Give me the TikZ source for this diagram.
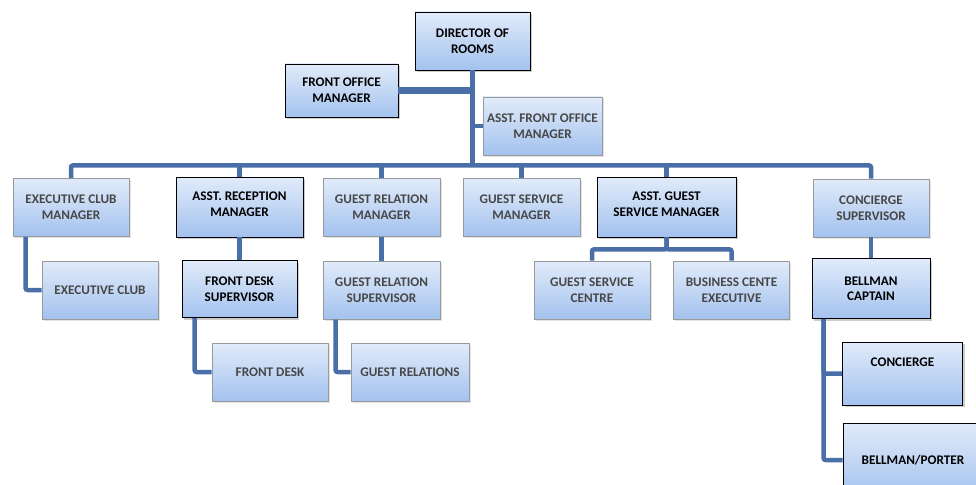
\documentclass[tikz,border=0pt]{standalone}
\usepackage{fontspec}
\setmainfont{Carlito}
\usepackage{tikz}
\usetikzlibrary{shapes,arrows}
\usetikzlibrary{shadows}
\usetikzlibrary{positioning}
\definecolor{boxtop}{HTML}{E1EBFA}
\definecolor{boxbottom}{HTML}{A3C2EE}
\definecolor{linkblue}{HTML}{4A6FA8}
\definecolor{greyedge}{HTML}{999999}
\definecolor{greytext}{HTML}{474747}

\begin{document}
\begin{tikzpicture}[x=1pt,y=-1pt,
	boxbase/.style={top color=boxtop, bottom color=boxbottom, line width=0.8pt, align=center, minimum width=116pt, minimum height=58pt, inner sep=2pt, font=\fontsize{13.2}{15.8}\selectfont\bfseries},
	box/.style={boxbase, draw=greyedge, text=greytext, drop shadow={opacity=0.22, shadow xshift=1.5pt, shadow yshift=-1.5pt}},
	dbox/.style={boxbase, draw=black, text=black, drop shadow={opacity=0.4, shadow xshift=2pt, shadow yshift=-2pt}},
	link/.style={draw=linkblue, line width=4.5pt, rounded corners=2pt}]
			
			\useasboundingbox (0,0) rectangle (976,484);
			
			\node[dbox, minimum width=115pt] (dor) at (472.5,41) {DIRECTOR OF\\ROOMS};
			\node[dbox, minimum width=113pt, minimum height=53pt] (fom) at (341.5,90.5) {FRONT OFFICE\\MANAGER};
			\node[box, minimum width=119pt] (afom) at (542.5,126) {ASST. FRONT OFFICE\\MANAGER};
			\coordinate[below=95pt of dor.south] (bus);
			
			\node[box] (ecm) at (71,207.5) {EXECUTIVE CLUB\\MANAGER};
			\node[dbox, minimum width=127pt, minimum height=60pt, text depth=6pt] (arm) at (239.5,207) {ASST. RECEPTION\\MANAGER};
			\node[box, minimum width=117pt] (grm) at (381.5,207.5) {GUEST RELATION\\MANAGER};
			\node[box, minimum width=117pt] (gsm) at (521.5,207.5) {GUEST SERVICE\\MANAGER};
			\node[dbox, minimum width=139pt, minimum height=60pt, text depth=6pt] (agsm) at (666.5,207) {ASST. GUEST\\SERVICE MANAGER};
			\node[box] (csup) at (871,208) {CONCIERGE\\SUPERVISOR};
			
			\node[box] (ec) at (100,290) {EXECUTIVE CLUB};
			\node[dbox, below=23pt of arm, minimum width=115pt, minimum height=57pt] (fds) {FRONT DESK\\SUPERVISOR};
			\node[box, below=24pt of grm, minimum width=117pt] (grs) {GUEST RELATION\\SUPERVISOR};
			\node[box] (gsc) at (592,290) {GUEST SERVICE\\CENTRE};
			\node[box] (bce) at (731.5,290) {BUSINESS CENTE\\EXECUTIVE};
			\node[dbox, below=21pt of csup, minimum width=118pt, minimum height=60pt] (bc) {BELLMAN\\CAPTAIN};
			
			\node[box] (fd) at (270,372) {FRONT DESK};
			\node[box, minimum width=118pt] (gr) at (410,372) {GUEST RELATIONS};
			\node[dbox, minimum width=120pt, minimum height=63pt, text depth=22pt] (con) at (902.5,373.5) {CONCIERGE};
			\node[dbox, minimum width=140pt, minimum height=74pt] (bp) at (913,460) {BELLMAN/PORTER};
			
			\draw[link] (dor.south) -- (bus);
			\draw[link, line width=7pt] (fom.east) -- (fom.east -| dor.south);
			\draw[link] (afom.west) -- (afom.west -| dor.south);
			
			\draw[link] (ecm.north) |- (bus) -| (csup.north);
			\draw[link] (arm.north) -- (arm.north |- bus);
			\draw[link] (grm.north) -- (grm.north |- bus);
			\draw[link] (gsm.north) -- (gsm.north |- bus);
			\draw[link] (agsm.north) -- (agsm.north |- bus);
			
			\draw[link] (ecm.south west) ++(13,0) |- (ec.west);
			\draw[link] (arm) -- (fds);
			\draw[link] (grm) -- (grs);
			\draw[link] (agsm.south) -- ++(0,12) -| (gsc.north);
			\draw[link] (agsm.south) -- ++(0,12) -| (bce.north);
			\draw[link] (csup) -- (bc);
			
			\draw[link] (fds.south west) ++(13,0) |- (fd.west);
			\draw[link] (grs.south west) ++(13,0) |- (gr.west);
			\draw[link] (bc.south west) ++(12,0) |- (con.west);
			\draw[link] (bc.south west) ++(12,0) |- (bp.west);
			
\end{tikzpicture}
\end{document}
